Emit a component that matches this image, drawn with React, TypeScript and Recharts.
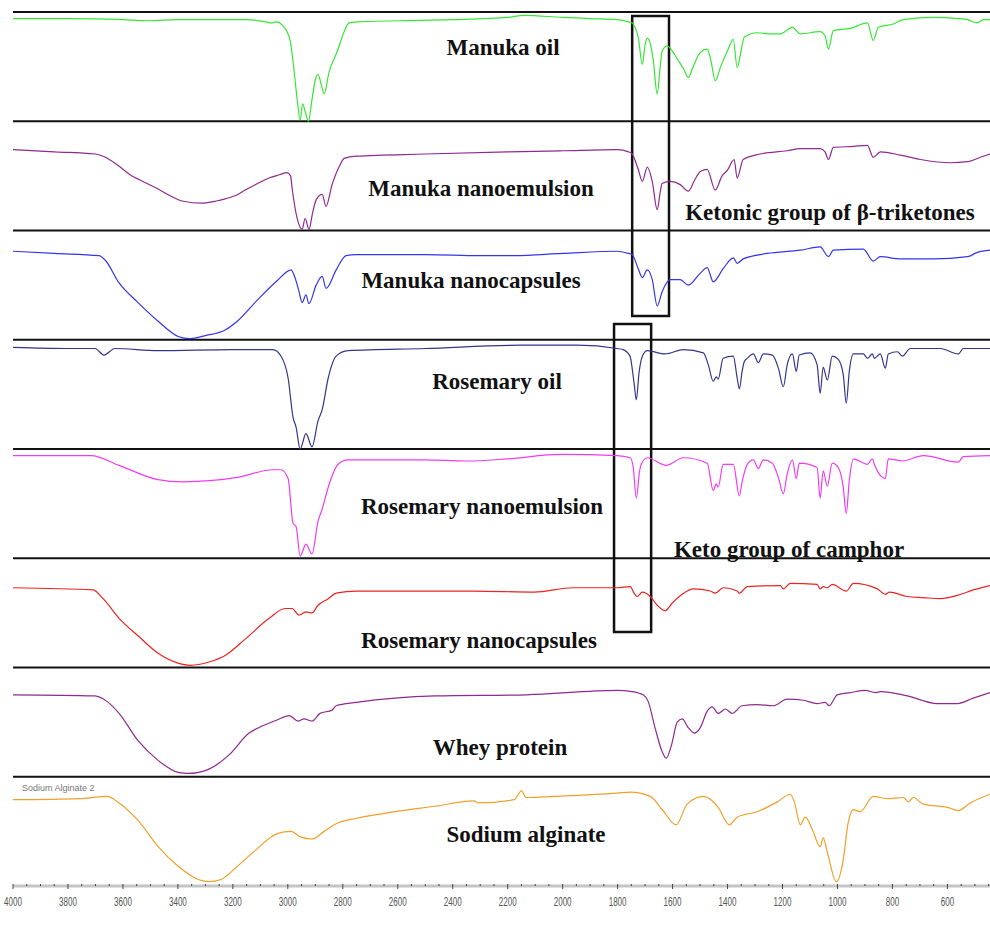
import React from 'react';
import { LineChart, Line, XAxis, YAxis, ReferenceLine, ReferenceArea } from 'recharts';

// FTIR spectra, [wavenumber cm-1, transmittance % within its own panel]
type Pt = [number, number];

const MANUKA_OIL: Pt[] = [
  [4000, 94], [3800, 94], [3600, 93], [3510, 92], [3400, 93], [3200, 93], [3150, 93], [3080, 91], [3060, 90],
  [3040, 91], [3020, 88], [3005, 83], [2990, 72], [2978, 48], [2966, 20], [2955, 1], [2946, 16], [2936, 8],
  [2925, 0], [2912, 20], [2900, 38], [2890, 43], [2878, 33], [2868, 25], [2850, 45], [2820, 64], [2795, 82],
  [2777, 90], [2750, 91], [2600, 92], [2400, 93], [2200, 95], [2140, 97], [2000, 95], [1900, 94], [1800, 93],
  [1760, 91], [1747, 90], [1735, 85], [1725, 77], [1710, 52], [1700, 70], [1692, 76], [1680, 70], [1670, 55],
  [1656, 25], [1645, 50], [1638, 64], [1620, 69], [1600, 64], [1583, 57], [1560, 48], [1543, 40], [1525, 50],
  [1499, 63], [1474, 66], [1460, 55], [1445, 37], [1425, 50], [1401, 64], [1379, 75], [1365, 49], [1354, 60],
  [1339, 77], [1292, 81], [1240, 80], [1208, 80], [1164, 86], [1135, 80], [1063, 82], [1045, 78], [1033, 66],
  [1015, 83], [953, 85], [891, 90], [870, 74], [851, 86], [797, 89], [760, 93], [651, 95], [560, 94],
  [527, 93], [491, 90], [469, 93], [445, 93],
];

const MANUKA_NANOEMULSION: Pt[] = [
  [4000, 74], [3850, 72], [3702, 70], [3672, 68], [3620, 60], [3574, 51], [3520, 44], [3472, 38], [3430, 32],
  [3385, 27], [3312, 25], [3260, 27], [3228, 29], [3190, 32], [3155, 37], [3110, 43], [3068, 48], [3030, 51],
  [3003, 53], [2990, 50], [2984, 38], [2966, 11], [2948, 1], [2937, 11], [2923, 1], [2910, 16], [2897, 28],
  [2875, 33], [2861, 22], [2839, 42], [2810, 60], [2795, 66], [2751, 68], [2500, 70], [2200, 72], [2000, 73],
  [1802, 74], [1760, 72], [1747, 70], [1725, 56], [1710, 45], [1692, 58], [1674, 45], [1656, 19], [1645, 35],
  [1638, 43], [1609, 45], [1572, 42], [1543, 36], [1520, 46], [1499, 54], [1474, 56], [1445, 37], [1420, 50],
  [1401, 55], [1376, 65], [1365, 48], [1343, 65], [1281, 70], [1183, 73], [1135, 75], [1063, 75], [1045, 72],
  [1033, 65], [1015, 76], [942, 77], [891, 78], [870, 67], [844, 72], [771, 69], [698, 65], [589, 62],
  [527, 63], [480, 67], [445, 70],
];

const MANUKA_NANOCAPSULES: Pt[] = [
  [4000, 81], [3850, 79], [3687, 77], [3665, 73], [3614, 52], [3545, 34], [3472, 17], [3399, 3], [3356, 1],
  [3297, 4], [3228, 9], [3184, 17], [3112, 36], [3039, 54], [2988, 64], [2977, 59], [2960, 45], [2948, 34],
  [2934, 41], [2923, 33], [2897, 50], [2875, 58], [2861, 47], [2824, 64], [2788, 77], [2751, 78], [2500, 78],
  [2300, 77], [2176, 77], [2000, 79], [1802, 81], [1760, 79], [1747, 78], [1725, 65], [1710, 57], [1692, 64],
  [1674, 55], [1656, 31], [1638, 44], [1609, 55], [1572, 55], [1543, 50], [1499, 61], [1474, 66], [1452, 53],
  [1416, 65], [1379, 75], [1365, 70], [1343, 74], [1256, 79], [1135, 82], [1063, 85], [1033, 76], [1015, 82],
  [906, 83], [870, 72], [844, 76], [771, 74], [651, 74], [527, 76], [491, 80], [445, 82],
];

const ROSEMARY_OIL: Pt[] = [
  [4000, 93], [3800, 92], [3702, 92], [3669, 86], [3629, 92], [3472, 90], [3200, 91], [3054, 91], [3025, 85],
  [2999, 65], [2981, 29], [2970, 20], [2955, 0], [2934, 14], [2912, 2], [2890, 26], [2875, 36], [2853, 65],
  [2824, 85], [2781, 90], [2500, 92], [2147, 95], [1947, 95], [1802, 92], [1780, 91], [1755, 85], [1740, 60],
  [1732, 45], [1722, 70], [1710, 85], [1692, 90], [1627, 87], [1561, 91], [1488, 88], [1470, 77], [1452, 62],
  [1441, 66], [1434, 64], [1416, 83], [1379, 85], [1365, 65], [1357, 55], [1347, 71], [1339, 80], [1328, 83],
  [1306, 87], [1288, 79], [1270, 87], [1237, 86], [1215, 74], [1197, 57], [1183, 77], [1164, 87], [1150, 71],
  [1139, 86], [1099, 88], [1074, 77], [1063, 51], [1052, 75], [1037, 63], [1019, 85], [997, 82], [979, 68],
  [968, 42], [957, 71], [942, 87], [906, 87], [891, 83], [873, 87], [866, 83], [844, 87], [826, 74], [815, 87],
  [782, 89], [764, 85], [735, 92], [626, 92], [560, 87], [542, 92], [445, 92],
];

const ROSEMARY_NANOEMULSION: Pt[] = [
  [4000, 94], [3716, 94], [3614, 85], [3472, 72], [3385, 70], [3184, 74], [3054, 81], [3025, 81], [2999, 73],
  [2981, 32], [2970, 29], [2955, 2], [2934, 13], [2912, 4], [2890, 34], [2875, 45], [2853, 65], [2817, 86],
  [2781, 90], [2500, 90], [2351, 89], [2200, 91], [2005, 95], [1802, 94], [1754, 92], [1743, 83], [1732, 55],
  [1720, 80], [1714, 86], [1692, 92], [1623, 85], [1561, 92], [1474, 87], [1452, 62], [1441, 68], [1434, 65],
  [1416, 86], [1379, 86], [1357, 57], [1347, 70], [1328, 86], [1306, 90], [1288, 82], [1270, 90], [1237, 87],
  [1215, 74], [1197, 59], [1183, 77], [1164, 90], [1150, 73], [1139, 87], [1074, 83], [1063, 55], [1052, 80],
  [1037, 66], [1019, 87], [997, 83], [979, 65], [968, 41], [957, 71], [942, 91], [891, 86], [873, 91],
  [866, 86], [826, 73], [815, 91], [764, 89], [688, 94], [560, 88], [542, 93], [445, 94],
];

const ROSEMARY_NANOCAPSULES: Pt[] = [
  [4000, 73], [3709, 71], [3672, 63], [3614, 45], [3545, 29], [3472, 13], [3399, 4], [3356, 2], [3287, 5],
  [3228, 11], [3155, 26], [3068, 45], [3010, 54], [2984, 54], [2959, 48], [2934, 51], [2912, 50], [2890, 57],
  [2853, 63], [2824, 68], [2751, 70], [2500, 70], [2322, 70], [2104, 69], [1962, 73], [1802, 73], [1754, 74],
  [1740, 68], [1729, 65], [1710, 69], [1681, 65], [1656, 57], [1627, 52], [1601, 59], [1565, 67], [1525, 72],
  [1463, 70], [1445, 68], [1416, 73], [1365, 70], [1357, 68], [1328, 74], [1208, 75], [1197, 72], [1172, 77],
  [1074, 76], [1063, 72], [1052, 74], [1037, 73], [1019, 76], [968, 70], [942, 77], [855, 72], [826, 67],
  [811, 69], [746, 65], [688, 64], [626, 63], [564, 66], [506, 71], [445, 75],
];

const WHEY_PROTEIN: Pt[] = [
  [4000, 75], [3702, 74], [3658, 69], [3614, 58], [3545, 33], [3472, 15], [3399, 4], [3363, 3], [3287, 7],
  [3214, 20], [3141, 40], [3097, 46], [3039, 52], [2995, 56], [2963, 51], [2941, 53], [2912, 51], [2883, 58],
  [2839, 61], [2824, 65], [2751, 68], [2464, 74], [2133, 75], [1802, 79], [1747, 78], [1707, 75], [1689, 69],
  [1663, 44], [1638, 23], [1623, 17], [1605, 28], [1583, 50], [1565, 53], [1543, 45], [1521, 40], [1499, 45],
  [1474, 60], [1456, 64], [1434, 58], [1408, 62], [1383, 58], [1347, 65], [1292, 66], [1234, 65], [1183, 71],
  [1124, 70], [1074, 67], [1045, 68], [1030, 65], [1001, 75], [953, 77], [899, 79], [862, 77], [844, 78],
  [746, 74], [637, 67], [564, 67], [506, 72], [445, 77],
];

const SODIUM_ALGINATE: Pt[] = [
  [4000, 79], [3760, 80], [3658, 82], [3614, 76], [3545, 60], [3472, 36], [3399, 18], [3326, 6], [3287, 4],
  [3243, 6], [3184, 18], [3112, 34], [3039, 48], [2988, 50], [2955, 45], [2912, 43], [2868, 50], [2824, 57],
  [2751, 62], [2609, 68], [2464, 73], [2322, 78], [2307, 76], [2176, 79], [2150, 87], [2133, 81], [2034, 82],
  [1802, 85], [1754, 86], [1681, 82], [1638, 70], [1587, 56], [1547, 75], [1488, 82], [1434, 72], [1394, 56],
  [1365, 63], [1292, 68], [1219, 77], [1172, 84], [1157, 77], [1135, 56], [1117, 63], [1092, 52], [1063, 36],
  [1052, 44], [1037, 31], [1004, 4], [979, 24], [961, 58], [942, 70], [917, 68], [870, 82], [819, 80],
  [760, 81], [742, 77], [724, 81], [688, 75], [600, 72], [560, 69], [517, 76], [445, 84],
];

const SPECTRA = [
  { key: 'manukaOil', color: '#35e635', points: MANUKA_OIL },
  { key: 'manukaNE', color: '#8e2a8e', points: MANUKA_NANOEMULSION },
  { key: 'manukaNC', color: '#3535ee', points: MANUKA_NANOCAPSULES },
  { key: 'rosemaryOil', color: '#35358f', points: ROSEMARY_OIL },
  { key: 'rosemaryNE', color: '#f03cf0', points: ROSEMARY_NANOEMULSION },
  { key: 'rosemaryNC', color: '#ee2222', points: ROSEMARY_NANOCAPSULES },
  { key: 'whey', color: '#8e2a8e', points: WHEY_PROTEIN },
  { key: 'alginate', color: '#f0a028', points: SODIUM_ALGINATE },
];

const PANELS = SPECTRA.length;
const MAJOR_TICKS = [4000, 3800, 3600, 3400, 3200, 3000, 2800, 2600, 2400, 2200, 2000, 1800, 1600, 1400, 1200, 1000, 800, 600];
const MINOR_STEP = 50;

// text annotations: [label, centre x, baseline y]
const LABELS: [string, number, number][] = [
  ['Manuka oil', 503, 55],
  ['Manuka nanoemulsion', 481, 196],
  ['Ketonic group of β-triketones', 830, 220],
  ['Manuka nanocapsules', 471, 288],
  ['Rosemary oil', 497, 389],
  ['Rosemary nanoemulsion', 482, 514],
  ['Keto group of camphor', 789, 557],
  ['Rosemary nanocapsules', 479, 648],
  ['Whey protein', 500, 755],
  ['Sodium alginate', 526, 842],
];

// carbonyl bands boxed across panels: wavenumber range and panel-unit range
const BOXES = [
  { x1: 1747, x2: 1613, y1: 5.217, y2: 7.963 },
  { x1: 1813, x2: 1678, y1: 2.325, y2: 5.144 },
];

const series = SPECTRA.map((s, i) => ({
  ...s,
  data: s.points.map(([wn, t]) => ({ wn, y: PANELS - 1 - i + t / 100 })),
}));

const xTicks: number[] = [];
for (let v = 4000; v >= 450; v -= MINOR_STEP) xTicks.push(v);
const yTicks: number[] = [];
for (let k = 0; k <= PANELS * 8; k++) yTicks.push(k / 8);

const WavenumberTick = (props: any) => {
  const { x, y, payload } = props;
  const major = MAJOR_TICKS.includes(payload.value);
  return (
    <g>
      <line x1={x} x2={x} y1={y - 2} y2={y + (major ? 3 : 0)} stroke="#444" strokeWidth={1} />
      {major && (
        <text
          transform={`translate(${x},${y + 20}) scale(0.62,1)`}
          textAnchor="middle"
          fontSize={13}
          fill="#555"
          fontFamily="'Liberation Sans', Arial, sans-serif"
        >
          {payload.value}
        </text>
      )}
    </g>
  );
};

export default function App() {
  return (
    <div style={{ position: 'absolute', left: 0, top: 0, width: 990, height: 945, background: '#fff', overflow: 'hidden' }}>
      <LineChart width={990} height={945} margin={{ top: 12, right: 0, left: 13, bottom: 29 }}>
        <XAxis
          type="number"
          dataKey="wn"
          domain={[445, 4000]}
          reversed
          allowDataOverflow
          ticks={xTicks}
          interval={0}
          tickSize={0}
          tickMargin={0}
          tickLine={false}
          tick={<WavenumberTick />}
          axisLine={{ stroke: '#c4c4c4', strokeWidth: 3 }}
          height={30}
        />
        <YAxis
          type="number"
          domain={[0, PANELS]}
          ticks={yTicks}
          interval={0}
          width={0}
          mirror
          tickSize={3}
          tickFormatter={() => ''}
          axisLine={{ stroke: '#d6d6d6' }}
          tickLine={{ stroke: '#888' }}
          allowDataOverflow
        />
        {Array.from({ length: PANELS }, (_, k) => (
          <ReferenceLine key={`div-${k}`} y={k + 1} stroke="#111" strokeWidth={2} ifOverflow="visible" />
        ))}
        {series.map((s) => (
          <Line
            key={s.key}
            data={s.data}
            dataKey="y"
            type="monotoneX"
            stroke={s.color}
            strokeWidth={1.2}
            dot={false}
            isAnimationActive={false}
          />
        ))}
        {BOXES.map((b, i) => (
          <ReferenceArea
            key={`box-${i}`}
            x1={b.x1}
            x2={b.x2}
            y1={b.y1}
            y2={b.y2}
            fill="none"
            fillOpacity={0}
            stroke="#111"
            strokeWidth={2.5}
            ifOverflow="visible"
          />
        ))}
      </LineChart>
      <div
        style={{
          position: 'absolute',
          left: 22,
          top: 783,
          fontSize: 9,
          lineHeight: '10px',
          fontFamily: 'Arial, sans-serif',
          color: '#777',
          whiteSpace: 'nowrap',
        }}
      >
        Sodium Alginate 2
      </div>
      <svg width={990} height={945} style={{ position: 'absolute', left: 0, top: 0, pointerEvents: 'none' }}>
        {LABELS.map(([text, x, y]) => (
          <text
            key={text}
            x={x}
            y={y}
            textAnchor="middle"
            fontSize={23}
            fontWeight="bold"
            fontFamily="'Liberation Serif', 'Times New Roman', serif"
            fill="#111"
          >
            {text}
          </text>
        ))}
      </svg>
    </div>
  );
}
